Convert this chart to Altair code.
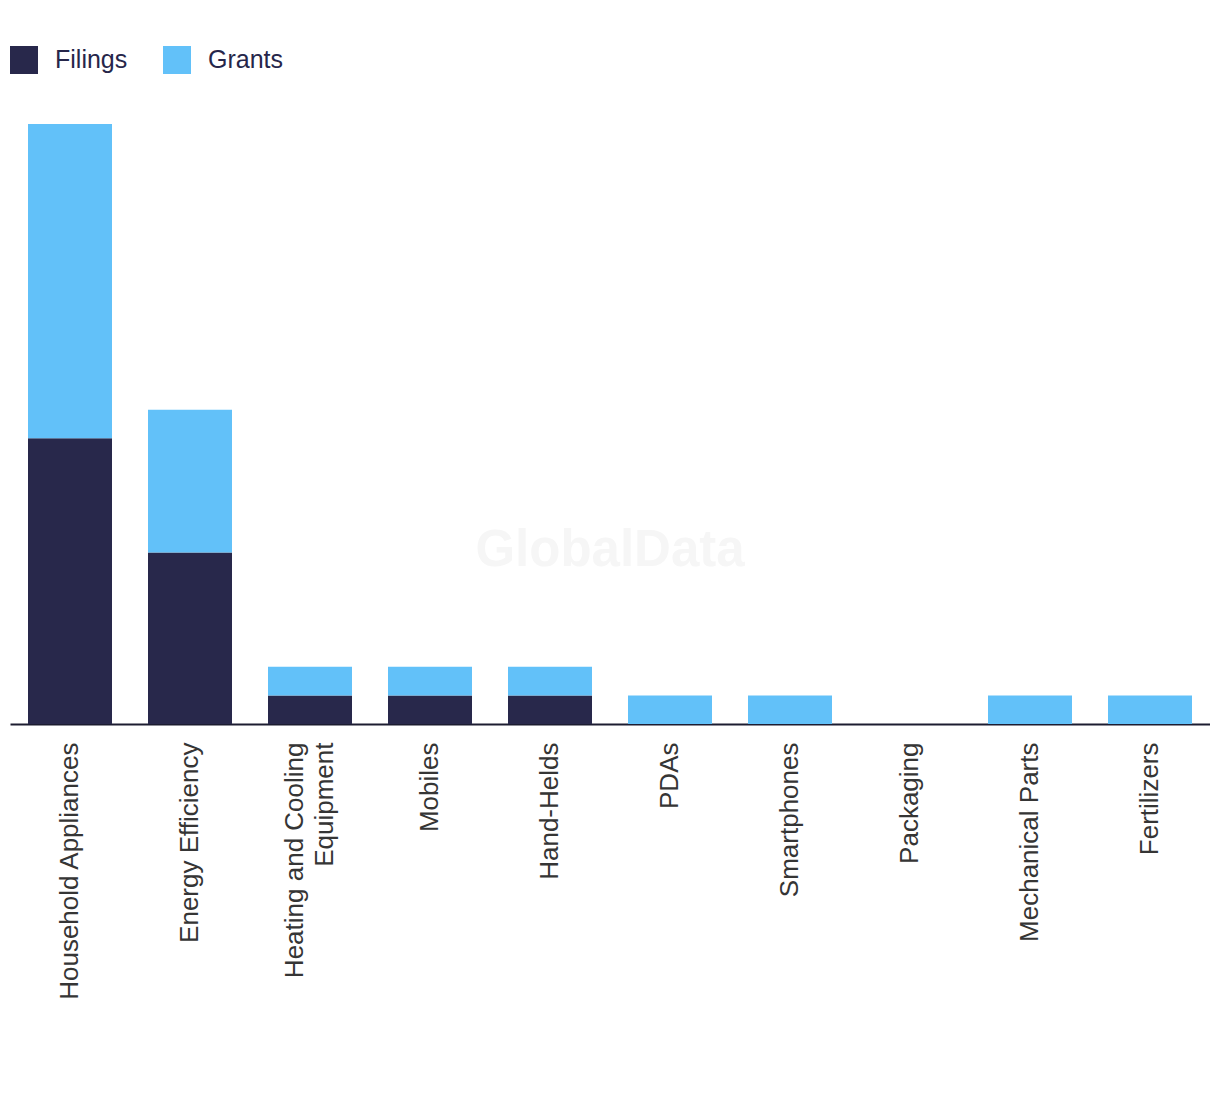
import altair as alt
import pandas as pd

categories = ["Household Appliances", "Energy Efficiency", "Heating and Cooling Equipment",
              "Mobiles", "Hand-Helds", "PDAs", "Smartphones", "Packaging",
              "Mechanical Parts", "Fertilizers"]
filings = [10, 6, 1, 1, 1, 0, 0, 0, 0, 0]
grants = [11, 5, 1, 1, 1, 1, 1, 0, 1, 1]
series = ["Filings", "Grants"]
colors = ["#28284b", "#62c1f9"]

rows = []
for c, f, g in zip(categories, filings, grants):
    rows.append({"category": c, "series": "Filings", "value": f, "ord": 0})
    rows.append({"category": c, "series": "Grants", "value": g, "ord": 1})
df = pd.DataFrame(rows)

wrap_test = "datum.value == 'Heating and Cooling Equipment'"
label_expr = ("datum.label == 'Heating and Cooling Equipment' ? "
              "['Heating and Cooling', 'Equipment'] : datum.label")

bars = alt.Chart(df).mark_bar().encode(
    x=alt.X("category:N", sort=categories, title=None,
            scale=alt.Scale(paddingInner=0.3, paddingOuter=0.15),
            axis=alt.Axis(labelAngle=270, labelAlign="right", labelBaseline="middle",
                          labelFontSize=26, labelFont="Liberation Sans",
                          labelColor="#353535", labelPadding=18, labelLimit=500,
                          labelLineHeight=30,
                          labelOffset={"condition": {"test": wrap_test, "value": -15}, "value": 0},
                          ticks=False, domainColor="#1c1c30", domainWidth=2,
                          labelExpr=label_expr)),
    y=alt.Y("value:Q", stack="zero", axis=None,
            scale=alt.Scale(domain=[0, 21], nice=False)),
    color=alt.Color("series:N", sort=series,
                    scale=alt.Scale(domain=series, range=colors),
                    legend=alt.Legend(title=None, orient="none", legendX=0, legendY=-78,
                                      direction="horizontal", symbolType="square",
                                      symbolSize=784, symbolStrokeWidth=0,
                                      labelFontSize=25, labelFont="Liberation Sans",
                                      labelColor="#26264a", labelOffset=17,
                                      columnPadding=35, padding=0)),
    order=alt.Order("ord:Q"),
)

wm = alt.Chart(pd.DataFrame({"t": ["GlobalData"]})).mark_text(
    fontSize=51, fontWeight="bold", font="Liberation Sans", color="#f6f6f6",
    align="center", baseline="middle"
).encode(text="t:N", x=alt.value(600), y=alt.value(427))

chart = alt.layer(wm, bars).properties(
    width=1200, height=600,
    padding={"left": 2, "top": 38, "right": 0, "bottom": 10},
).configure_view(stroke=None)

chart.save("out.html", embed_options={"renderer": "svg", "actions": False})
